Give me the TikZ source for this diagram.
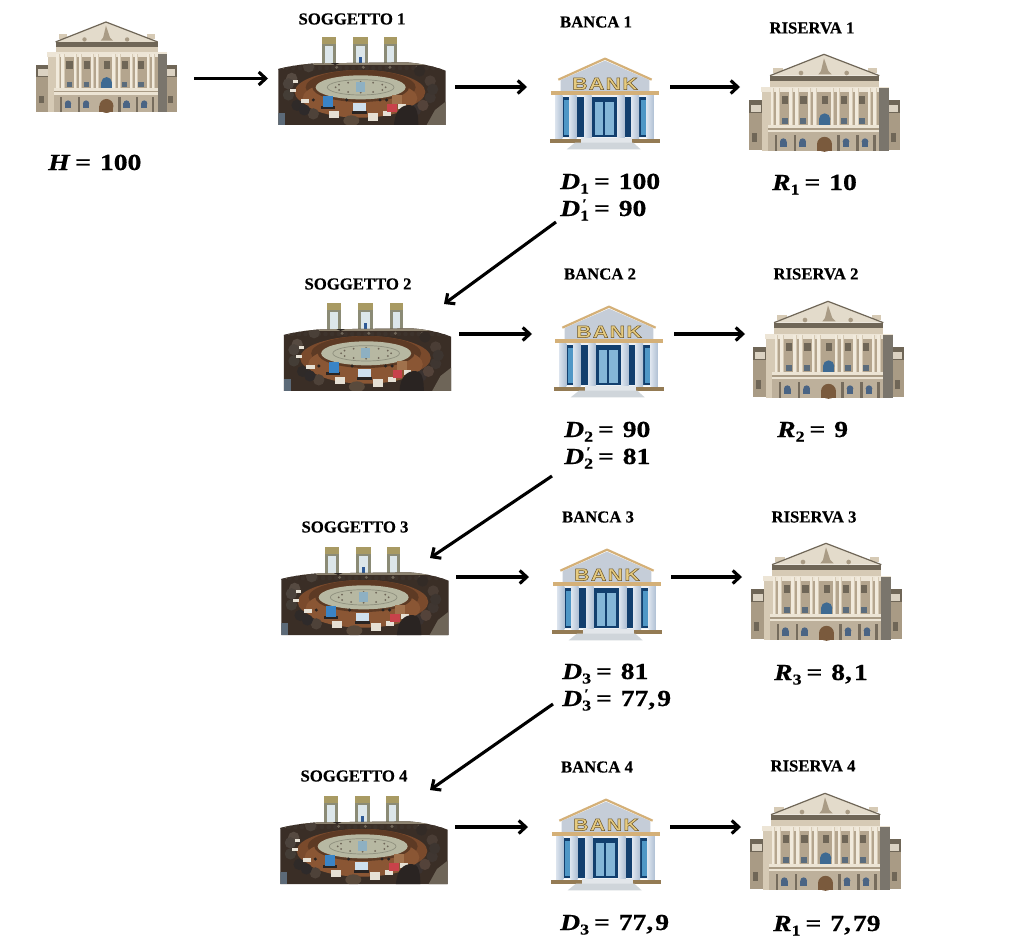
\documentclass[tikz,border=0pt]{standalone}
\usepackage{fontspec}
\setmainfont{Liberation Serif}
\newfontfamily\capfnt[BoldFeatures={FakeBold=0.5}]{Liberation Serif}
\newfontfamily\mathfnt[FakeStretch=1.2,BoldFeatures={FakeBold=0.6},BoldItalicFeatures={FakeBold=0.6}]{Liberation Serif}
\newfontfamily\bankfnt[FakeStretch=1.25,LetterSpace=8]{Liberation Sans}
\usetikzlibrary{arrows.meta}
\newcommand\defhex[1]{\definecolor{h#1}{HTML}{#1}}
\defhex{EEF2F6}\defhex{E2E6EA}\defhex{CFD5DA}\defhex{E3DBCB}\defhex{3E6A92}\defhex{BDB09B}
\defhex{4A6484}\defhex{7A5A3D}\defhex{7A756C}\defhex{8B8B76}\defhex{A89A63}\defhex{DCE6EA}
\defhex{2F5A96}\defhex{8E8471}\defhex{8A5634}\defhex{8F907E}\defhex{8EB0C2}\defhex{3F3631}
\defhex{3A3230}\defhex{54433A}\defhex{564A41}\defhex{4A4038}\defhex{2C2622}\defhex{4A3D35}
\defhex{332B26}\defhex{443D36}\defhex{2F2A28}\defhex{4E4239}\defhex{3D3530}\defhex{2E2A2A}
\defhex{4C433C}\defhex{3D332C}\defhex{E6E0D4}\defhex{C8424A}\defhex{A0714C}\defhex{3A84C6}
\defhex{CFE0EE}\defhex{5A4A3C}\defhex{6E6558}\defhex{5C6A78}\defhex{2A2422}\defhex{AEBFD3}
\defhex{DCE4EE}\defhex{B4A58E}\defhex{5B6C7C}\defhex{5D3A24}\defhex{C5CDD8}
\definecolor{goldbar}{HTML}{D4B078}
\definecolor{goldtxt}{HTML}{E6CB80}
\definecolor{deepblue}{HTML}{123F6E}
\definecolor{glassblue}{HTML}{4F97C6}
\definecolor{stone}{HTML}{D6CAB5}
\definecolor{stonedk}{HTML}{A99B85}
\definecolor{stonelt}{HTML}{F1EADC}
\definecolor{roofdk}{HTML}{6F6657}
\definecolor{wood}{HTML}{7A4A2C}
\definecolor{roomdk}{HTML}{3A2E26}
\definecolor{floorc}{HTML}{B7B8A2}
\tikzset{
  caption/.style={font=\fontsize{16.7}{18}\capfnt\bfseries,inner sep=0pt,anchor=center},
  valuelabel/.style={font=\fontsize{23}{24}\mathfnt\bfseries,inner sep=0pt,anchor=base west},
  flow/.style={line width=3.1pt,-{Straight Barb[length=7pt,width=13pt,line width=3.1pt]}},
  bankword/.style={font=\fontsize{17}{18}\bankfnt\bfseries,text=goldtxt,inner sep=0pt},
  col/.style={left color=hDCE4EE,middle color=white,right color=hAEBFD3,draw=none}
}
\newcommand\valeq{\hspace{2pt}=\hspace{2pt}}
% value label: letter, subscript, prime flag, remainder
\newcommand\valtext[4]{\textit{#1}\rlap{\smash{\raisebox{-4.5pt}{\fontsize{15}{16}\selectfont #2}}}\ifx&#3&\else\rlap{\smash{\raisebox{8pt}{\fontsize{13}{14}\selectfont\,′}}}\fi\hspace{12pt}\valeq{} #4}
% BANK icon
\newcommand\bankicon[3]{%
\begin{scope}[shift={(#2,#3)},scale=0.3333]
  \fill[hC5CDD8] (62,90) -- (195,32) -- (328,90) -- (328,124) -- (62,124) -- cycle;
  \draw[goldbar,line width=2.2pt,line join=round] (55,89) -- (195,26) -- (335,89);
  \fill[goldbar] (33,122) rectangle (357,135);
  \fill[hEEF2F6] (48,135) rectangle (342,265);
  \fill[deepblue] (68,142) rectangle (90,262);
  \fill[glassblue] (73,150) rectangle (87,256);
  \fill[deepblue] (110,142) rectangle (133,262);
  \fill[deepblue] (155,142) rectangle (232,262);
  \fill[glassblue!70!white] (165,155) rectangle (190,255);
  \fill[glassblue!70!white] (196,155) rectangle (222,255);
  \fill[deepblue] (253,142) rectangle (275,262);
  \fill[deepblue] (297,142) rectangle (320,262);
  \fill[glassblue] (303,150) rectangle (317,256);
  \foreach \cx in {45,88,133,232,275,320}{\shade[col] (\cx,137) rectangle ++(22,128);}
  \fill[goldbar!70!black] (30,266) rectangle (122,278);
  \fill[goldbar!70!black] (275,266) rectangle (360,278);
  \fill[hE2E6EA] (122,264) rectangle (275,278);
  \fill[hCFD5DA] (105,278) -- (280,278) -- (302,298) -- (80,298) -- cycle;
  \node[bankword] (#1) at (195,101) {\special{pdf:code 2 Tr 0.5 w 0.42 0.33 0.15 RG}BANK\special{pdf:code 0 Tr}};
\end{scope}}
% central bank building
\newcommand\reservebuilding[3]{%
\begin{scope}[shift={(#1,#2)},scale=#3]
  \fill[stonedk] (27,165) rectangle (70,316);
  \fill[stonedk] (440,165) rectangle (480,316);
  \fill[roofdk] (27,165) rectangle (70,205);
  \fill[roofdk] (440,165) rectangle (480,205);
  \fill[stonelt!70!stonedk] (34,180) rectangle (64,202);
  \fill[stonelt!70!stonedk] (446,180) rectangle (474,202);
  \fill[roofdk] (36,265) rectangle (52,290);
  \fill[roofdk] (452,265) rectangle (468,290);
  \fill[stone] (65,128) rectangle (447,317);
  \fill[hB4A58E] (92,140) rectangle (418,240);
  \fill[stone] (100,68) rectangle (128,84);
  \fill[stone] (385,68) rectangle (410,84);
  \fill[hE3DBCB] (90,92) -- (252,28) -- (418,92) -- cycle;
  \draw[roofdk,line width=1.2pt,line join=round] (90,92) -- (252,28) -- (418,92);
  \fill[stonedk] (243,78) -- (252,40) -- (265,78) -- (275,88) -- (235,88) -- cycle;
  \fill[stonedk] (183,84) circle (7);
  \fill[stonedk] (320,84) circle (7);
  \fill[roofdk] (90,92) rectangle (418,108);
  \fill[stone] (90,108) rectangle (418,126);
  \fill[stonelt!85!stone] (62,125) rectangle (448,140);
  \foreach \wx in {135,190,255,312,365}{\fill[roofdk] (\wx-10,153) rectangle (\wx+10,178);}
  \foreach \wx in {135,190,312,365}{\fill[h5B6C7C] (\wx-9,220) rectangle (\wx+9,238);}
  \foreach \cx in {97,113,153,170,208,225,277,295,333,350,388,405}{\fill[stonelt] (\cx-5,130) rectangle (\cx+5,240);\fill[stone] (\cx+2.5,130) rectangle (\cx+5,240);}
  \fill[h3E6A92] (237,222) rectangle (271,240);
  \fill[h3E6A92] (254,222) circle (17);
  \fill[stonelt!80!stone] (85,240) rectangle (420,262);
  \fill[stonedk] (85,250) rectangle (420,254);
  \fill[hBDB09B] (85,262) rectangle (420,317);
  \foreach \wx in {130,188,318,375}{\fill[h4A6484] (\wx-10,290) rectangle (\wx+10,305);\fill[h4A6484] (\wx,290) circle (10);\fill[stonedk!70!black] (\wx-26,270) rectangle (\wx-19,317);}
  \fill[stonedk!70!black] (400,270) rectangle (408,317);
  \fill[h7A5A3D] (231,298) rectangle (276,317);
  \fill[h7A5A3D] (253.5,298) circle (22.5);
  \fill[h7A756C] (418,130) -- (447,130) -- (447,317) -- (418,317) -- cycle;
\end{scope}}
% council chamber
\newcommand\council[2]{%
\begin{scope}[shift={(#1,#2)},scale=0.3333]
  \foreach \wx/\ww in {155/43,248/45,343/39}{
    \fill[h8B8B76] (\wx,20) rectangle ++(\ww,85);
    \fill[hA89A63] (\wx,20) rectangle ++(\ww,22);
    \fill[hDCE6EA] (\wx+9,47) rectangle ++(\ww-18,58);
  }
  \fill[h2F5A96] (266,80) rectangle (276,105);
  \begin{scope}
    \clip (25,117) .. controls (70,105) and (110,102) .. (140,100) -- (410,97) .. controls (450,100) and (490,108) .. (527,122) -- (527,285) -- (25,285) -- cycle;
    \fill[roomdk] (0,90) rectangle (540,290);
    \fill[h8E8471] (0,90) rectangle (540,106);
    \foreach \a in {30,50,...,510}{\fill[h3D332C] (\a,114) circle (7);}
    \foreach \a in {40,120,...,520}{\fill[h6E6558] (\a,112) circle (5);}
    \fill[wood] (270,186) ellipse (196 and 66);
    \fill[h5D3A24] (272,172) ellipse (165 and 52);
    \fill[h8A5634] (270,205) ellipse (172 and 58);
    \fill[h5D3A24] (272,172) ellipse (145 and 44);
    \fill[floorc] (272,172) ellipse (135 and 36);
    \draw[h8F907E,line width=0.7pt] (272,172) ellipse (100 and 23);
    \foreach \a in {0,30,...,330}{\fill[h6E6558] (272,172) ++(\a:75 and 16) circle (3);}
    \fill[h8EB0C2] (258,157) rectangle (284,185);
    \foreach \a/\c in {15/3F3631,40/3A3230,200/564A41,225/4A4038,250/2C2622,325/332B26,170/443D36,150/2F2A28,130/4E4239,345/4A3D35,0/3D3530,190/4C433C,140/2E2A2A,30/54433A}{\fill[h\c] (270,178) ++(\a:218 and 96) circle (17);}
    \foreach \px/\py/\pw/\ph in {178/243/30/20,60/177/18/8,92/208/26/12,294/250/30/22,338/242/24/16,385/222/22/14,70/150/15/8}{\fill[hE6E0D4] (\px,\py) rectangle ++(\pw,\ph);}
    \fill[hC8424A] (352,222) rectangle (380,246);
    \fill[hA0714C] (365,195) rectangle (395,222);
    \fill[h2A2422] (152,228) rectangle (195,238);
    \fill[h3A84C6] (160,198) rectangle (190,230);
    \fill[h2A2422] (246,244) rectangle (290,252);
    \fill[hCFE0EE] (248,220) rectangle (288,244);
    \foreach \sx in {130,230,330,350}{\fill[h2A2422] (\sx,210) circle (5);}
    \fill[h2A2422] (372,285) .. controls (375,240) and (395,225) .. (420,225) .. controls (440,225) and (445,250) .. (445,285) -- cycle;
    \fill[h5A4A3C] (244,272) ellipse (24 and 16);
    \fill[h6E6558] (495,240) -- (527,215) -- (527,285) -- (470,285) -- cycle;
    \fill[h5C6A78] (25,250) rectangle (45,285);
  \end{scope}
\end{scope}}
\begin{document}
\begin{tikzpicture}[x=1pt,y=-1pt]
\useasboundingbox (0,0) rectangle (1024,937);
\fill[white] (0,0) rectangle (1024,937);
% images
\reservebuilding{27.6}{13.3}{0.311}
\council{270}{30}
\bankicon{bankA}{540}{50}
\reservebuilding{740}{45}{0.3333}
\council{275.5}{296}
\bankicon{bankB}{544}{298}
\reservebuilding{744}{292}{0.3333}
\council{273}{540}
\bankicon{bankC}{542}{541}
\reservebuilding{742}{534}{0.3333}
\council{272}{789}
\bankicon{bankD}{541}{791}
\reservebuilding{741}{784}{0.3333}
% captions
\node[caption] (capS1) at (352,19) {SOGGETTO 1};
\node[caption] (capB1) at (596,22) {BANCA 1};
\node[caption] (capR1) at (812,28) {RISERVA 1};
\node[caption] (capS2) at (358,284) {SOGGETTO 2};
\node[caption] (capB2) at (600,274) {BANCA 2};
\node[caption] (capR2) at (816,274) {RISERVA 2};
\node[caption] (capS3) at (355,527) {SOGGETTO 3};
\node[caption] (capB3) at (598,517) {BANCA 3};
\node[caption] (capR3) at (814,517) {RISERVA 3};
\node[caption] (capS4) at (354,776) {SOGGETTO 4};
\node[caption] (capB4) at (597,767) {BANCA 4};
\node[caption] (capR4) at (813,766) {RISERVA 4};
% values
\node[valuelabel] (valH) at (48,170) {\textit{H}\hspace{3pt}\valeq{} 100};
\node[valuelabel] (valD1) at (560,189) {\valtext{D}{1}{}{100}};
\node[valuelabel] (valDp1) at (560,216) {\valtext{D}{1}{p}{90}};
\node[valuelabel] (valR1) at (772,190) {\valtext{R}{1}{}{10}};
\node[valuelabel] (valD2) at (564,437) {\valtext{D}{2}{}{90}};
\node[valuelabel] (valDp2) at (564,464) {\valtext{D}{2}{p}{81}};
\node[valuelabel] (valR2) at (777,437) {\valtext{R}{2}{}{9}};
\node[valuelabel] (valD3) at (562,679) {\valtext{D}{3}{}{81}};
\node[valuelabel] (valDp3) at (562,706) {\valtext{D}{3}{p}{77,\kern2pt 9}};
\node[valuelabel] (valR3) at (774,680) {\valtext{R}{3}{}{8,\kern2pt 1}};
\node[valuelabel] (valD4) at (560,930) {\valtext{D}{3}{}{77,\kern2pt 9}};
\node[valuelabel] (valR4) at (773,931) {\valtext{R}{1}{}{7,\kern2pt 79}};
% connector ends
\foreach \nm/\px/\py in {hA/194/78.5,sA/268/78.5,sB/455/87,bA/527/87,bB/670/87,rA/740/87,
  dA/556/222,tA/444/304,sC/459/334,bC/532/334,bD/674/334,rB/745/334,
  dB/552/476,tB/430/558,sD/456/577,bE/529/577,bF/671/577,rC/742/577,
  dC/553/704,tC/430/790,sE/455/827,bG/528/827,bH/670/827,rD/741/827}{
  \coordinate (\nm) at (\px,\py);
}
\foreach \ea/\eb in {hA/sA,sB/bA,bB/rA,dA/tA,sC/bC,bD/rB,dB/tB,sD/bE,bF/rC,dC/tC,sE/bG,bH/rD}{
  \draw[flow] (\ea) -- (\eb);
}
\end{tikzpicture}
\end{document}
